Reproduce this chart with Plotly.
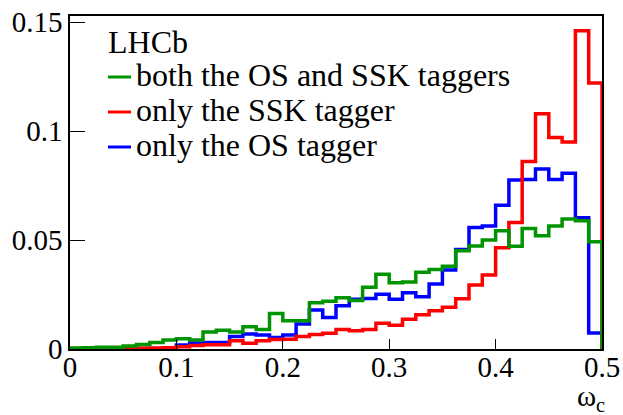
import numpy as np
import plotly.graph_objects as go

# Mistag probability omega_c, 40 bins between 0 and 0.5
bin_lo, bin_hi, n_bins = 0.0, 0.5, 40

# Normalised distributions per tagger combination
both_os_ssk = [0.0005, 0.0006, 0.0008, 0.0008, 0.0014, 0.0021, 0.0030, 0.0041, 0.0047, 0.0041,
               0.0078, 0.0086, 0.0078, 0.0102, 0.0090, 0.0163, 0.0130, 0.0130, 0.0212, 0.0219,
               0.0235, 0.0222, 0.0283, 0.0343, 0.0304, 0.0307, 0.0352, 0.0365, 0.0380, 0.0451,
               0.0473, 0.0500, 0.0543, 0.0472, 0.0553, 0.0520, 0.0564, 0.0596, 0.0589, 0.0492]
only_ssk = [0.0002, 0.0002, 0.0003, 0.0003, 0.0004, 0.0004, 0.0005, 0.0006, 0.0010, 0.0016,
            0.0019, 0.0019, 0.0038, 0.0026, 0.0038, 0.0044, 0.0045, 0.0057, 0.0066, 0.0072,
            0.0090, 0.0084, 0.0090, 0.0118, 0.0109, 0.0136, 0.0157, 0.0176, 0.0191, 0.0231,
            0.0294, 0.0340, 0.0465, 0.0580, 0.0860, 0.1080, 0.0970, 0.0950, 0.1460, 0.1220]
only_os = [0.0001, 0.0001, 0.0001, 0.0001, 0.0001, 0.0002, 0.0002, 0.0003, 0.0018, 0.0027,
           0.0030, 0.0030, 0.0057, 0.0069, 0.0064, 0.0053, 0.0064, 0.0115, 0.0179, 0.0145,
           0.0199, 0.0228, 0.0232, 0.0251, 0.0228, 0.0258, 0.0240, 0.0298, 0.0362, 0.0457,
           0.0558, 0.0564, 0.0660, 0.0775, 0.0778, 0.0826, 0.0778, 0.0806, 0.0602, 0.0073]

y_tick_vals = [0, 0.05, 0.1, 0.15]
y_tick_text = ["0", "0.05", "0.1", "0.15"]
x_tick_vals = [0, 0.1, 0.2, 0.3, 0.4, 0.5]
x_tick_text = ["0", "0.1", "0.2", "0.3", "0.4", "0.5"]

edges = np.linspace(bin_lo, bin_hi, n_bins + 1)
FONT = "'Liberation Serif', 'Times New Roman', Times, serif"

W, H = 623, 415
M_L, M_R, M_T, M_B = 70, 21, 16, 66
PLOT_W = W - M_L - M_R
PLOT_H = H - M_T - M_B


def px_to_paper(px, py):
    return (px - M_L) / PLOT_W, (H - M_B - py) / PLOT_H


def step_outline(values):
    """Histogram outline: closed down to zero at both ends."""
    xs = np.concatenate([[edges[0]], edges])
    ys = np.concatenate([[0.0], values, [0.0]])
    return xs, ys


# drawing order (last on top) and legend order (top to bottom)
series = {
    "both": ("both the OS and SSK taggers", both_os_ssk, "#009400"),
    "ssk": ("only the SSK tagger", only_ssk, "#ff0000"),
    "os": ("only the OS tagger", only_os, "#0000ff"),
}
draw_order = ["os", "ssk", "both"]
legend_order = ["both", "ssk", "os"]

fig = go.Figure()
for key in draw_order:
    name, vals, color = series[key]
    xs, ys = step_outline(vals)
    fig.add_trace(go.Scatter(
        x=xs, y=ys, mode="lines", name=name, showlegend=False,
        line=dict(color=color, width=3.5, shape="hv"),
    ))

# legend block: experiment label followed by line samples and captions
annotations = []
shapes = []
lx, ly = px_to_paper(106, 42)
annotations.append(dict(text="LHCb", xref="paper", yref="paper", x=lx, y=ly,
                        xanchor="left", yanchor="middle", showarrow=False,
                        font=dict(family=FONT, size=32)))
row_y = [77, 112, 147]
for key, ry in zip(legend_order, row_y):
    name, _, color = series[key]
    x0, y0 = px_to_paper(108, ry)
    x1, _ = px_to_paper(131, ry)
    shapes.append(dict(type="line", xref="paper", yref="paper",
                       x0=x0, x1=x1, y0=y0, y1=y0,
                       line=dict(color=color, width=3)))
    tx, ty = px_to_paper(134, ry - 2)
    annotations.append(dict(text=name, xref="paper", yref="paper", x=tx, y=ty,
                            xanchor="left", yanchor="middle", showarrow=False,
                            font=dict(family=FONT, size=32)))

# axis title at the end of the x axis
ax, ay = px_to_paper(607, 398)
annotations.append(dict(text="ω<sub>c</sub>", xref="paper", yref="paper",
                        x=ax, y=ay, xanchor="right", yanchor="middle",
                        showarrow=False, font=dict(family=FONT, size=29)))

fig.update_layout(
    width=W, height=H,
    margin=dict(l=M_L, r=M_R, t=M_T, b=M_B),
    paper_bgcolor="white", plot_bgcolor="white",
    font=dict(family=FONT, size=28, color="black"),
    showlegend=False,
    xaxis=dict(
        range=[bin_lo, bin_hi], tickvals=x_tick_vals, ticktext=x_tick_text,
        ticks="inside", ticklen=10, tickwidth=1.2, tickcolor="black",
        showline=True, linecolor="black", linewidth=1.5, mirror=True,
        showgrid=False, zeroline=False, automargin=False,
        ticklabelstandoff=-9,
        tickfont=dict(family=FONT, size=29),
    ),
    yaxis=dict(
        range=[0, 0.1528], tickvals=y_tick_vals, ticktext=y_tick_text,
        ticks="inside", ticklen=15, tickwidth=1.2, tickcolor="black",
        showline=True, linecolor="black", linewidth=1.5, mirror=True,
        showgrid=False, zeroline=False, automargin=False,
        tickfont=dict(family=FONT, size=29),
    ),
    annotations=annotations,
    shapes=shapes,
)

fig.write_html("out.html")
